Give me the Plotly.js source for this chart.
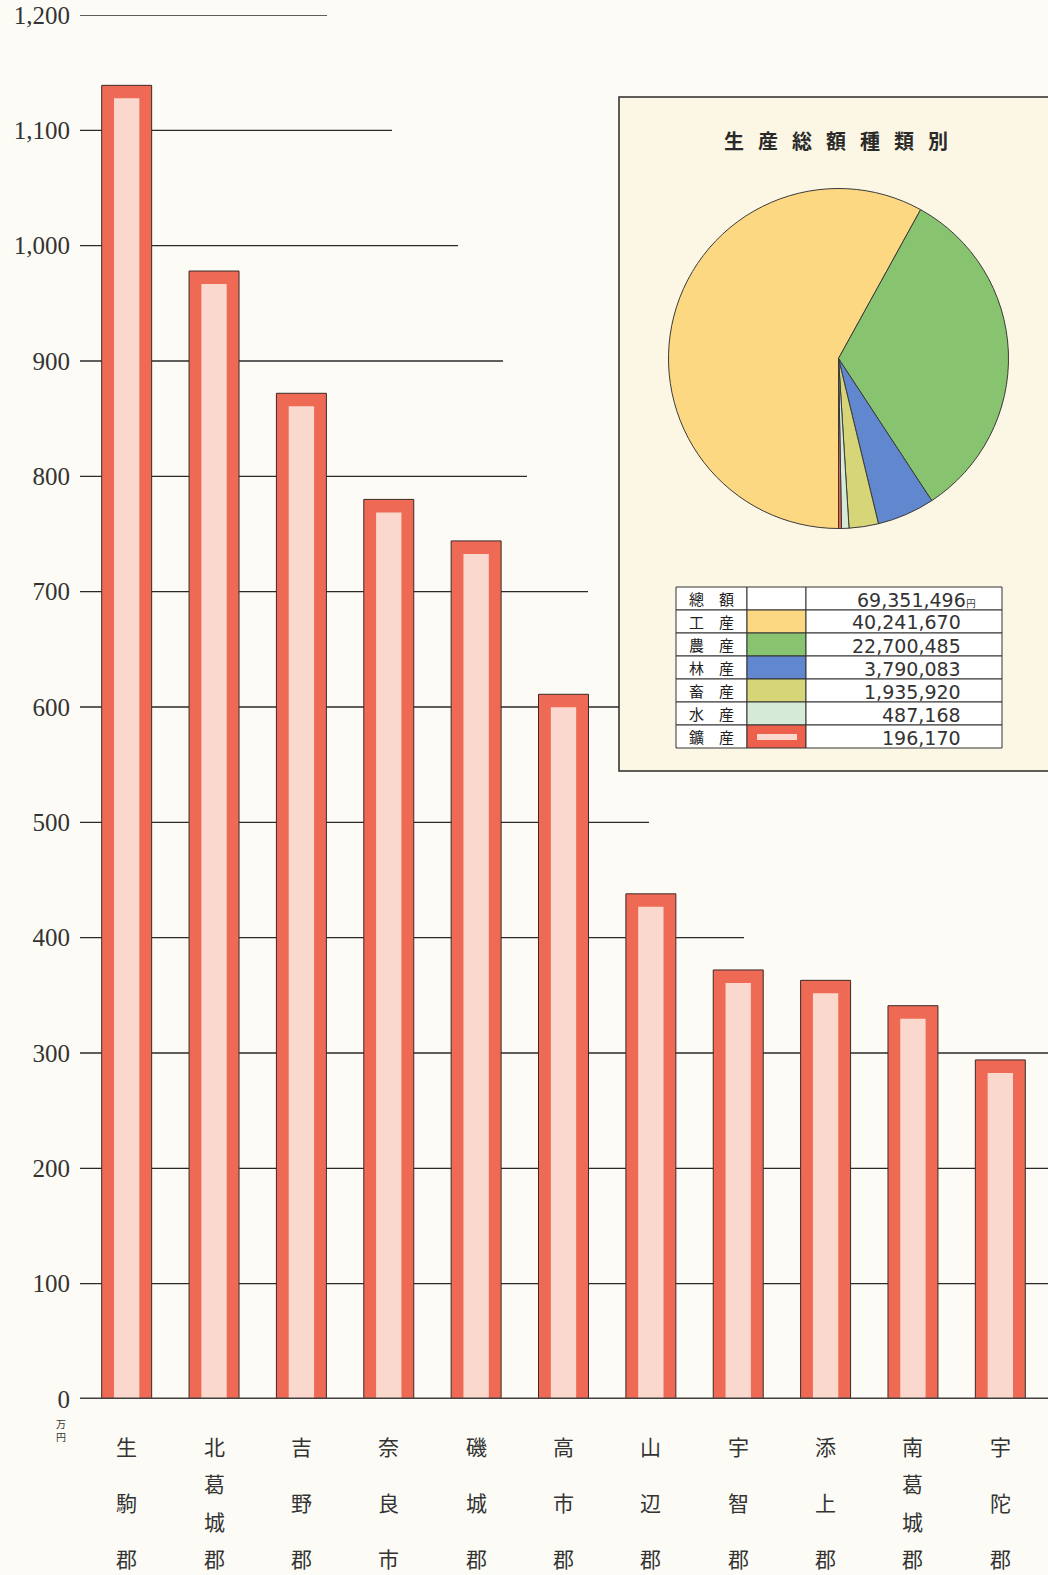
<!DOCTYPE html>
<html>
<head>
<meta charset="utf-8">
<script src="https://cdn.plot.ly/plotly-3.0.1.min.js"></script>
<style>
  html, body { margin: 0; padding: 0; background: #fcfbf5; }
  #chart { width: 1048px; height: 1575px; }
</style>
</head>
<body>
<div id="chart"></div>
<script>
// ---------- data ----------
const districts = ['生駒郡', '北葛城郡', '吉野郡', '奈良市', '磯城郡', '高市郡', '山辺郡', '宇智郡', '添上郡', '南葛城郡', '宇陀郡'];
const outputManYen = [1139, 978, 872, 780, 744, 611, 438, 372, 363, 341, 294];

const yTickValues = [0, 100, 200, 300, 400, 500, 600, 700, 800, 900, 1000, 1100, 1200];

const pieLabels = ['工産', '農産', '林産', '畜産', '水産', '鑛産'];
const pieValues = [40241670, 22700485, 3790083, 1935920, 487168, 196170];
const pieColors = ['#fdd882', '#88c46f', '#6187cf', '#d6d578', '#d6ebd7', '#ec604c'];
const totalLabel = '總額';
const totalValue = 69351496;

const pieTitle = '生産総額種類別';
const unitLabel = '万円';

// ---------- layout geometry (pixels) ----------
const W = 1048, H = 1575;
const M = { l: 83, r: 4, t: 15, b: 176 };
const PW = W - M.l - M.r, PH = H - M.t - M.b;
const PB = H - M.b; // plot bottom pixel
const fx = x => (x - M.l) / PW;
const fy = y => (PB - y) / PH;

// where each staircase gridline ends (px), per tick value 100..1200
const gridEndPx = [1048, 1048, 1048, 744, 649, 620, 588, 527, 503, 458, 392, 327];

const fmt = n => n.toString().replace(/\B(?=(\d{3})+(?!\d))/g, ',');

const RED = '#ef6a55', PINK = '#fbd8ce';
const CJK = '"Noto Sans CJK JP", "Noto Sans CJK SC", sans-serif';

// ---------- traces ----------
const innerOffsetUnits = 13 / (PH / 1200); // red band thickness on top

const traces = [
  {
    type: 'bar', x: districts, y: outputManYen, width: 0.572,
    marker: { color: RED, line: { color: '#3a2a28', width: 1 } },
    hoverinfo: 'x+y', showlegend: false
  },
  {
    type: 'bar', x: districts, y: outputManYen, yaxis: 'y2', width: 0.29,
    marker: { color: PINK, line: { width: 0 } },
    hoverinfo: 'skip', showlegend: false
  },
  {
    type: 'pie', labels: pieLabels, values: pieValues, sort: false,
    direction: 'clockwise', rotation: -180,
    marker: { colors: pieColors, line: { color: '#3a3a3a', width: 1 } },
    textinfo: 'none', hoverinfo: 'label+value', showlegend: false,
    domain: { x: [fx(838.5 - 170), fx(838.5 + 170)], y: [fy(358.5 + 170), fy(358.5 - 170)] }
  }
];

// ---------- shapes ----------
const shapes = [];
// staircase gridlines
yTickValues.slice(1).forEach((v, i) => {
  shapes.push({
    type: 'line', layer: 'below', xref: 'paper', yref: 'y',
    x0: fx(80), x1: fx(gridEndPx[i]), y0: v, y1: v,
    line: { color: '#2a2a2a', width: 1.4 }
  });
});
// inset box
shapes.push({
  type: 'rect', layer: 'below', xref: 'paper', yref: 'paper',
  x0: fx(619), x1: fx(1070), y0: fy(771), y1: fy(97),
  fillcolor: '#fcf6e4', line: { color: '#2a2a2a', width: 1.5 }
});
// baseline
shapes.push({
  type: 'line', layer: 'above', xref: 'paper', yref: 'y',
  x0: fx(80), x1: fx(1048), y0: 0, y1: 0,
  line: { color: '#454040', width: 3 }
});

// legend table
const colX = [676, 747, 806, 1002];
const rowTop = 587, rowH = 23;
const tableRows = [{ label: totalLabel, color: '#ffffff', value: totalValue, unit: true }]
  .concat(pieLabels.map((l, i) => ({ label: l, color: pieColors[i], value: pieValues[i], unit: false })));

const annotations = [];
tableRows.forEach((row, r) => {
  const y0 = rowTop + r * rowH, y1 = y0 + rowH;
  for (let c = 0; c < 3; c++) {
    shapes.push({
      type: 'rect', layer: 'above', xref: 'paper', yref: 'paper',
      x0: fx(colX[c]), x1: fx(colX[c + 1]), y0: fy(y1), y1: fy(y0),
      fillcolor: c === 1 ? row.color : '#ffffff',
      line: { color: '#333', width: 1 }
    });
  }
  annotations.push({
    xref: 'paper', yref: 'paper', x: fx((colX[0] + colX[1]) / 2), y: fy(y0 + rowH / 2),
    text: row.label.split('').join('\u2003'), showarrow: false,
    xanchor: 'center', yanchor: 'middle',
    font: { family: CJK, size: 15, color: '#222' }
  });
  annotations.push({
    xref: 'paper', yref: 'paper', x: fx(row.unit ? 978 : 963), y: fy(y0 + rowH / 2 + 1),
    text: fmt(row.value) + (row.unit ? '<span style="font-size:10px">円</span>' : ''),
    showarrow: false, xanchor: 'right', yanchor: 'middle',
    font: { family: '"DejaVu Sans", sans-serif', size: 19, color: '#333' }
  });
});
// pink inner stripe of the 鑛産 swatch (same style as bars)
const lastRowTop = rowTop + (tableRows.length - 1) * rowH;
shapes.push({
  type: 'rect', layer: 'above', xref: 'paper', yref: 'paper',
  x0: fx(757), x1: fx(797), y0: fy(lastRowTop + 15), y1: fy(lastRowTop + 9),
  fillcolor: PINK, line: { width: 0 }
});

// pie title
annotations.push({
  xref: 'paper', yref: 'paper', x: fx(836), y: fy(140),
  text: '<b>' + pieTitle.split('').join('\u2002\u2009') + '</b>', showarrow: false,
  xanchor: 'center', yanchor: 'middle',
  font: { family: CJK, size: 20, color: '#2a2a2a' }
});

// vertical category labels
const firstCharY = 1446, lastCharY = 1558;
districts.forEach((name, i) => {
  const chars = name.split('');
  const step = (lastCharY - firstCharY) / (chars.length - 1);
  chars.forEach((ch, k) => {
    annotations.push({
      xref: 'x', yref: 'paper', x: name, y: fy(firstCharY + k * step),
      text: ch, showarrow: false, xanchor: 'center', yanchor: 'middle',
      font: { family: CJK, size: 21, color: '#333' }
    });
  });
});

// unit
annotations.push({
  xref: 'paper', yref: 'paper', x: fx(61), y: fy(1430),
  text: unitLabel.split('').join('<br>'), showarrow: false,
  xanchor: 'center', yanchor: 'middle',
  font: { family: CJK, size: 10, color: '#333' }
});

// ---------- layout ----------
const layout = {
  width: W, height: H,
  margin: M,
  paper_bgcolor: '#fcfbf5', plot_bgcolor: 'rgba(0,0,0,0)',
  barmode: 'overlay',
  showlegend: false,
  xaxis: {
    type: 'category', range: [-0.5, districts.length - 0.5],
    showticklabels: false, showgrid: false, zeroline: false, showline: false, ticks: ''
  },
  yaxis: {
    range: [0, 1200], tickvals: yTickValues, tickformat: ',d',
    showgrid: false, zeroline: false, showline: false, ticks: '',
    ticklabelstandoff: 12,
    tickfont: { family: '"Liberation Serif", "DejaVu Serif", serif', size: 25, color: '#333' }
  },
  yaxis2: {
    overlaying: 'y', range: [innerOffsetUnits, 1200 + innerOffsetUnits], visible: false
  },
  shapes: shapes,
  annotations: annotations
};

Plotly.newPlot('chart', traces, layout, { displayModeBar: false, staticPlot: true });
</script>
</body>
</html>
